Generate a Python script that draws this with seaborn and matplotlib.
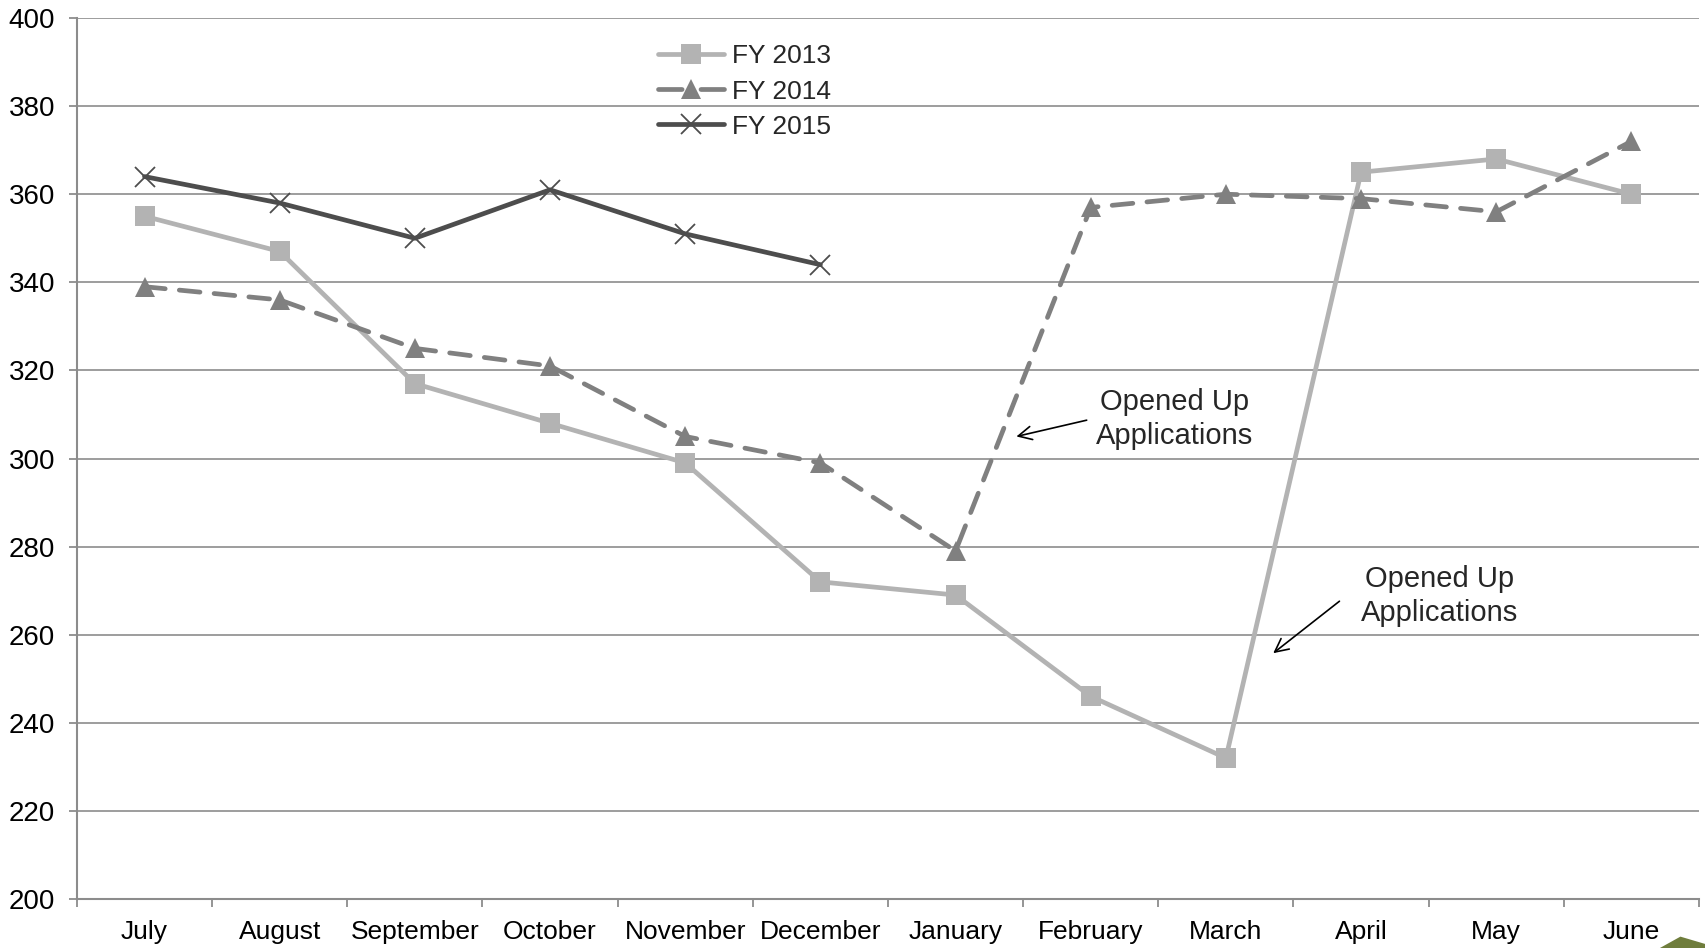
import matplotlib
matplotlib.use("Agg")
import matplotlib.pyplot as plt
import seaborn as sns
import pandas as pd
import numpy as np
from matplotlib.patches import Polygon

months = ["July", "August", "September", "October", "November", "December",
          "January", "February", "March", "April", "May", "June"]
fy2013 = [355, 347, 317, 308, 299, 272, 269, 246, 232, 365, 368, 360]
fy2014 = [339, 336, 325, 321, 305, 299, 279, 357, 360, 359, 356, 372]
fy2015 = [364, 358, 350, 361, 351, 344]
y_ticks = [200, 220, 240, 260, 280, 300, 320, 340, 360, 380, 400]

sns.set_theme(style="white")
plt.rcParams['font.family'] = ['Liberation Sans', 'DejaVu Sans']

FS = 19
FSA = 21

fig = plt.figure(figsize=(17.06, 9.48), dpi=100)
ax = fig.add_axes([0.0451, 0.0517, 0.9508, 0.9293])

xpos = {m: i for i, m in enumerate(months)}
df13 = pd.DataFrame({"x": [xpos[m] for m in months], "y": fy2013})
df14 = pd.DataFrame({"x": [xpos[m] for m in months], "y": fy2014})
df15 = pd.DataFrame({"x": [xpos[m] for m in months[:len(fy2015)]], "y": fy2015})

c13, c14, c15 = "#b3b3b3", "#808080", "#4d4d4d"
LW = 3.4

sns.lineplot(data=df13, x="x", y="y", ax=ax, color=c13, linewidth=LW,
             marker="s", markersize=14, markeredgewidth=0, label="FY 2013",
             zorder=3)
sns.lineplot(data=df14, x="x", y="y", ax=ax, color=c14, linewidth=LW,
             marker="^", markersize=15, markeredgewidth=0, label="FY 2014",
             zorder=4)
ax.lines[-1].set_dashes((4.4, 3.0))
ax.lines[-1].set_dash_capstyle("round")
sns.lineplot(data=df15, x="x", y="y", ax=ax, color=c15, linewidth=LW,
             marker="x", markersize=14, markeredgewidth=1.3,
             markeredgecolor=c15, markerfacecolor=c15, label="FY 2015",
             zorder=5)

ax.set_xlim(-0.5, 11.5)
ax.set_ylim(200, 400)
ax.set_yticks(y_ticks)
ax.set_xticks(range(12))
ax.set_xticklabels(months)
ax.set_xticks(np.arange(-0.5, 12, 1), minor=True)
ax.set_xlabel("")
ax.set_ylabel("")

ax.yaxis.grid(True, color="#8c8c8c", linewidth=1.2)
ax.xaxis.grid(False)
ax.set_axisbelow(True)
for s in ["top", "right"]:
    ax.spines[s].set_visible(False)
for s in ["left", "bottom"]:
    ax.spines[s].set_color("#8c8c8c")
    ax.spines[s].set_linewidth(1.5)

ax.tick_params(axis="y", which="major", direction="out", length=5.8, width=1.3,
               color="#8c8c8c", labelsize=20, labelcolor="black", pad=10, left=True)
ax.tick_params(axis="x", which="major", length=0, labelsize=FS,
               labelcolor="black", pad=15)
ax.tick_params(axis="x", which="minor", direction="out", length=6, width=1.3,
               color="#8c8c8c", bottom=True)

leg = ax.legend(loc="upper left", bbox_to_anchor=(0.3515, 0.982), frameon=False,
                fontsize=FS, handlelength=2.5, labelspacing=0.42,
                handletextpad=0.3, borderaxespad=0)
for h in leg.legend_handles:
    h.set_markeredgecolor(h.get_color())
leg.legend_handles[1].set_dashes((5.0, 4.0))
leg.legend_handles[1].set_dash_capstyle("round")

arrow = dict(arrowstyle="->", color="black", lw=1.2, shrinkA=0, shrinkB=0,
             mutation_scale=24)
ax.text(7.62, 309.0, "Opened Up\nApplications", ha="center", va="center",
        fontsize=FSA, linespacing=1.25)
ax.annotate("", xy=(6.45, 305), xytext=(6.97, 308.7), arrowprops=arrow)
ax.text(9.58, 268.8, "Opened Up\nApplications", ha="center", va="center",
        fontsize=FSA, linespacing=1.25)
ax.annotate("", xy=(8.35, 255.8), xytext=(8.84, 267.6), arrowprops=arrow)

fig.patches.append(Polygon([[0.973, 0.0], [0.985, 0.012], [1.0, 0.004], [1.0, 0.0]],
                           closed=True, transform=fig.transFigure,
                           facecolor="#6f7d3c", edgecolor="none"))

fig.savefig("out.png", dpi=100)
